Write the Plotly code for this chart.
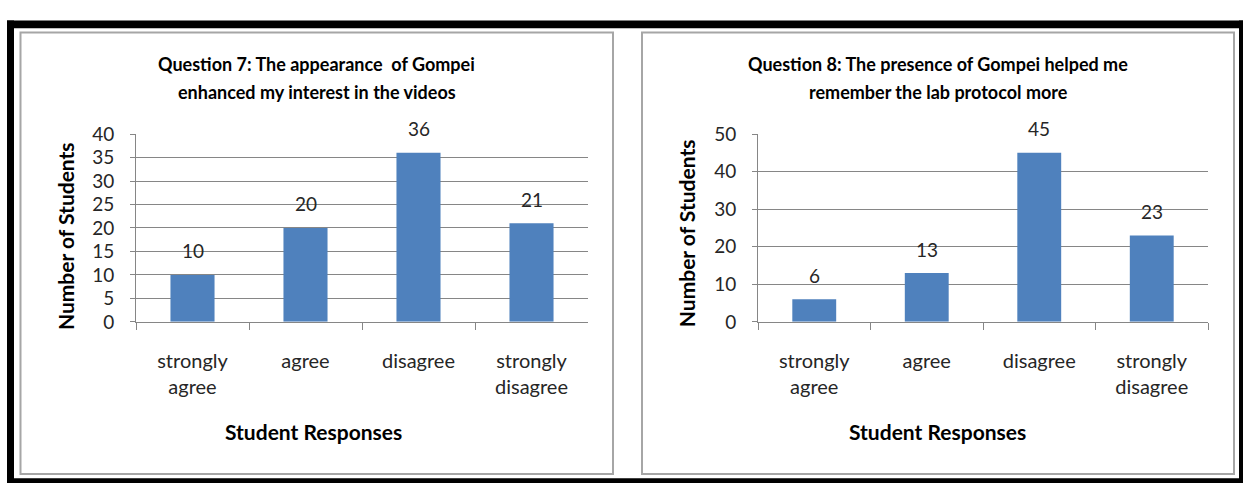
import plotly.graph_objects as go

W, H = 1245, 494

categories = ["strongly<br>agree", "agree", "disagree", "strongly<br>disagree"]
q7_values = [10, 20, 36, 21]
q8_values = [6, 13, 45, 23]

q7_title = ["Question 7: The appearance  of Gompei", "enhanced my interest in the videos"]
q8_title = ["Question 8: The presence of Gompei helped me", "remember the lab protocol more"]
x_title = "Student Responses"
y_title = "Number of Students"

FONT = "Lato"
BAR = "#4F81BD"
GRID = "#868686"
TXT = "#262626"


def px(x):
    return x / W


def py(y):
    return 1 - y / H


fig = go.Figure()
fig.add_trace(go.Bar(x=categories, y=q7_values, marker=dict(color=BAR, line=dict(width=0)),
                     width=0.39, xaxis="x", yaxis="y", hoverinfo="x+y"))
fig.add_trace(go.Bar(x=categories, y=q8_values, marker=dict(color=BAR, line=dict(width=0)),
                     width=0.39, xaxis="x2", yaxis="y2", hoverinfo="x+y"))

xcommon = dict(type="category", showgrid=False, showline=True, linecolor=GRID, linewidth=1,
               ticks="outside", tickson="boundaries", ticklen=7, tickcolor=GRID,
               tickfont=dict(family=FONT, size=20, color=TXT), ticklabelstandoff=21,
               fixedrange=True, zeroline=False)
ycommon = dict(showgrid=True, gridcolor=GRID, gridwidth=1, showline=True, linecolor=GRID,
               linewidth=1, ticks="outside", ticklen=5, tickcolor=GRID,
               tickfont=dict(family=FONT, size=19, color=TXT), ticklabelstandoff=12,
               zeroline=False, fixedrange=True)

fig.update_layout(
    width=W, height=H, margin=dict(l=0, r=0, t=0, b=0),
    paper_bgcolor="white", plot_bgcolor="white", showlegend=False, bargap=0.61,
    xaxis=dict(domain=[px(136), px(588)], anchor="y", **xcommon),
    yaxis=dict(domain=[py(325), py(128)], anchor="x", range=[0, 40], dtick=5, **ycommon),
    xaxis2=dict(domain=[px(758), px(1208)], anchor="y2", **xcommon),
    yaxis2=dict(domain=[py(325), py(128)], anchor="x2", range=[0, 50], dtick=10, **ycommon),
)

ann = []
# data labels
for xa, ya, vals in (("x", "y", q7_values), ("x2", "y2", q8_values)):
    for c, v in zip(categories, vals):
        ann.append(dict(x=c, y=v, xref=xa, yref=ya, text=str(v), showarrow=False,
                        yshift=24, font=dict(family=FONT, size=19, color=TXT)))

# titles
for cx, lines in ((316.5, q7_title), (938, q8_title)):
    for i, line in enumerate(lines):
        ann.append(dict(x=px(cx), y=py(55 + 29 * i), xref="paper", yref="paper", text=line,
                        showarrow=False, xanchor="center", yanchor="middle",
                        font=dict(family=FONT, size=18, color="black", weight="bold")))

# axis titles
for cx in (313, 937):
    ann.append(dict(x=px(cx), y=py(440), xref="paper", yref="paper", text=x_title,
                    showarrow=False, xanchor="center", yanchor="middle",
                    font=dict(family=FONT, size=21, color="black", weight="bold")))
for cx, cy in ((65, 235), (686, 232)):
    ann.append(dict(x=px(cx), y=py(cy), xref="paper", yref="paper", text=y_title,
                    showarrow=False, xanchor="center", yanchor="middle", textangle=-90,
                    font=dict(family=FONT, size=21, color="black", weight="bold")))
fig.update_layout(annotations=ann)

shapes = []
# outer black frame
for x0, y0, x1, y1 in ((7, 9, 1243, 17), (7, 9, 14, 494), (1239, 9, 1243, 494), (7, 489, 1243, 494)):
    shapes.append(dict(type="rect", xref="paper", yref="paper", x0=px(x0), x1=px(x1),
                       y0=py(y0), y1=py(y1), fillcolor="black", line=dict(width=0), layer="above"))
# panel borders
for x0, x1 in ((20.5, 613), (642, 1234)):
    shapes.append(dict(type="rect", xref="paper", yref="paper", x0=px(x0), x1=px(x1),
                       y0=py(21.5), y1=py(484.5), fillcolor="rgba(0,0,0,0)",
                       line=dict(color="#A6A6A6", width=2), layer="below"))
fig.update_layout(shapes=shapes)

fig.write_html("out.html", post_script="document.body.style.margin='0';")
